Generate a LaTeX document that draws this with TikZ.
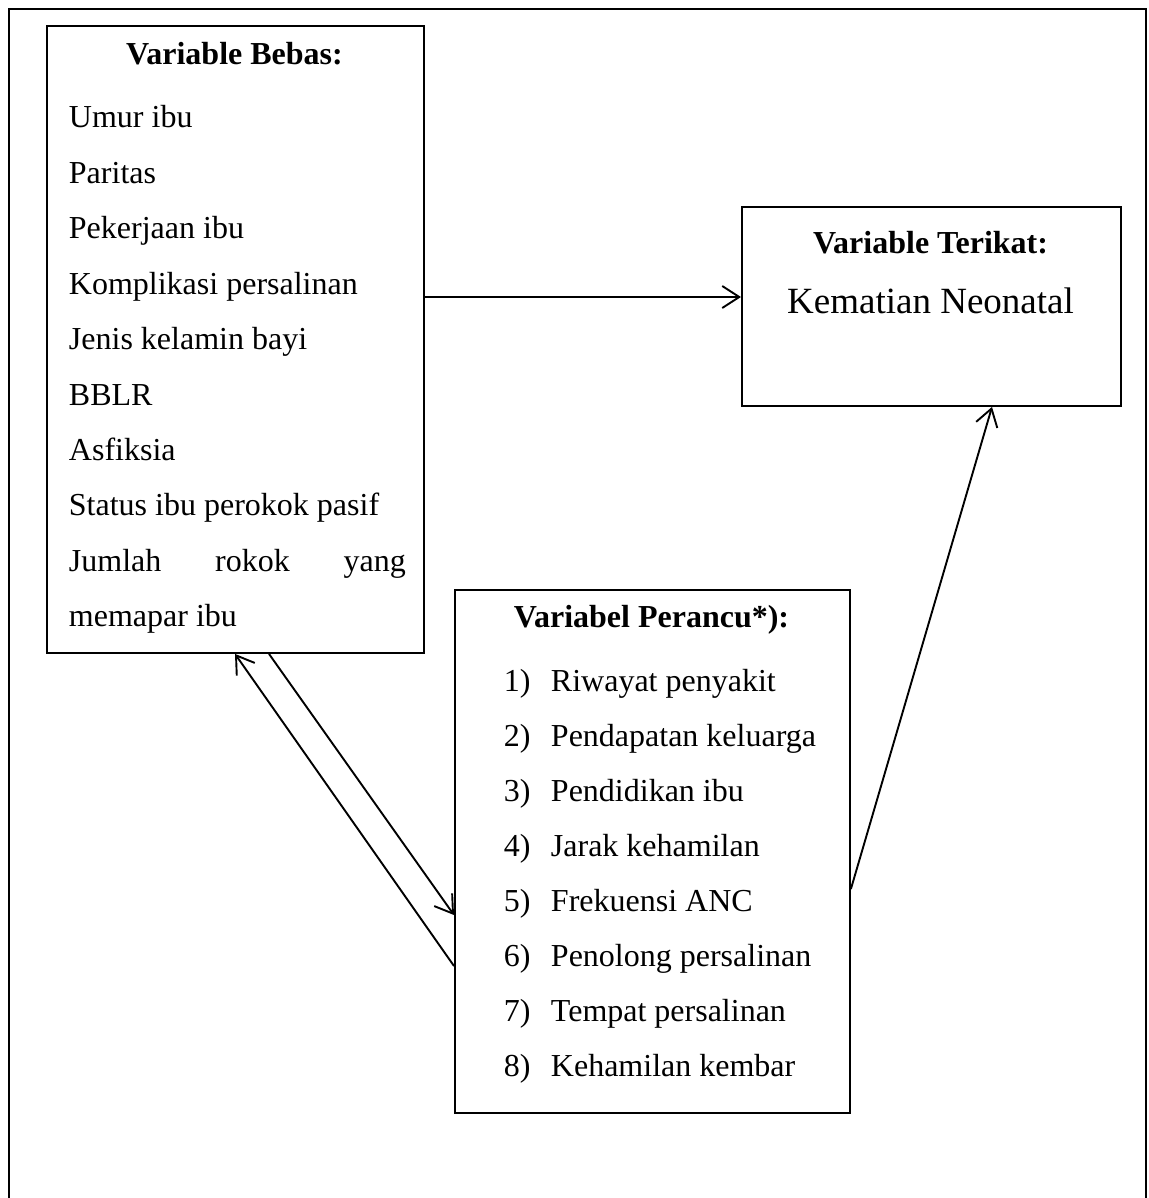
\documentclass[tikz,border=0pt]{standalone}
\usepackage{fontspec}
\setmainfont{Liberation Serif}
\usetikzlibrary{arrows.meta}
\begin{document}
\begin{tikzpicture}[x=1pt,y=-1pt,
  line width=1.9pt,
  box/.style={draw,line width=1.9pt,inner sep=0pt,anchor=north west},
  txt/.style={anchor=base west,inner sep=0pt,font=\fontsize{32}{38}\selectfont},
  ttl/.style={anchor=base,inner sep=0pt,font=\fontsize{32}{38}\selectfont\bfseries},
  big/.style={anchor=base,inner sep=0pt,font=\fontsize{37}{44}\selectfont},
  arr/.style={-{Straight Barb[length=17pt,width=22pt,line width=1.9pt]},line width=1.9pt}]
\useasboundingbox (0,0) rectangle (1148,1198);
% outer frame (bottom edge outside the picture)
\draw[line width=1.9pt] (9,1200) -- (9,9) -- (1146,9) -- (1146,1200);
% boxes
\node[box,minimum width=377pt,minimum height=627pt] (bebas) at (46,25) {};
\node[box,minimum width=379pt,minimum height=199pt] (terikat) at (741,206) {};
\node[box,minimum width=395pt,minimum height=523pt] (perancu) at (454,589) {};
% left box text
\node[ttl] (tb) at (234.5,65) {Variable Bebas:};
\node[txt] (b1) at (68,128) {Umur ibu};
\node[txt] (b2) at (68,183.5) {Paritas};
\node[txt] (b3) at (68,239) {Pekerjaan ibu};
\node[txt] (b4) at (68,294) {Komplikasi persalinan};
\node[txt] (b5) at (68,349.5) {Jenis kelamin bayi};
\node[txt] (b6) at (68,405) {BBLR};
\node[txt] (b7) at (68,460) {Asfiksia};
\node[txt] (b8) at (68,515.5) {Status ibu perokok pasif};
\node[txt] (b9) at (68,571) {\makebox[337pt][l]{Jumlah\hfill rokok\hfill yang}};
\node[txt] (b10) at (68,626) {memapar ibu};
% right box text
\node[ttl] (tt) at (930.5,253) {Variable Terikat:};
\node[big] (km) at (930.5,313) {Kematian Neonatal};
% middle box text
\node[ttl] (tp) at (651.5,627) {Variabel Perancu*):};
\foreach \n/\t [count=\i from 0] in {1/Riwayat penyakit,2/Pendapatan keluarga,3/Pendidikan ibu,4/Jarak kehamilan,5/Frekuensi ANC,6/Penolong persalinan,7/Tempat persalinan,8/Kehamilan kembar}{
  \node[txt] (pn\n) at (503,691+55*\i) {\n)};
  \node[txt] (pt\n) at (550,691+55*\i) {\t};
}
% connector end points on the box borders
\coordinate (e1) at (bebas.east |- 0,297);
\coordinate (e2) at (terikat.west |- 0,297);
\coordinate (e3) at (perancu.east |- 0,889);
\coordinate (e4) at (992,0 |- terikat.south);
\coordinate (e5) at (269,0 |- bebas.south);
\coordinate (e6) at (perancu.west |- 0,915);
\coordinate (e7) at (perancu.west |- 0,966);
\coordinate (e8) at (235,0 |- bebas.south);
\draw[arr] (e1) -- (e2);
\draw[arr] (e3) -- (e4);
\draw[arr] (e5) -- (e6);
\draw[arr] (e7) -- (e8);
\end{tikzpicture}
\end{document}
